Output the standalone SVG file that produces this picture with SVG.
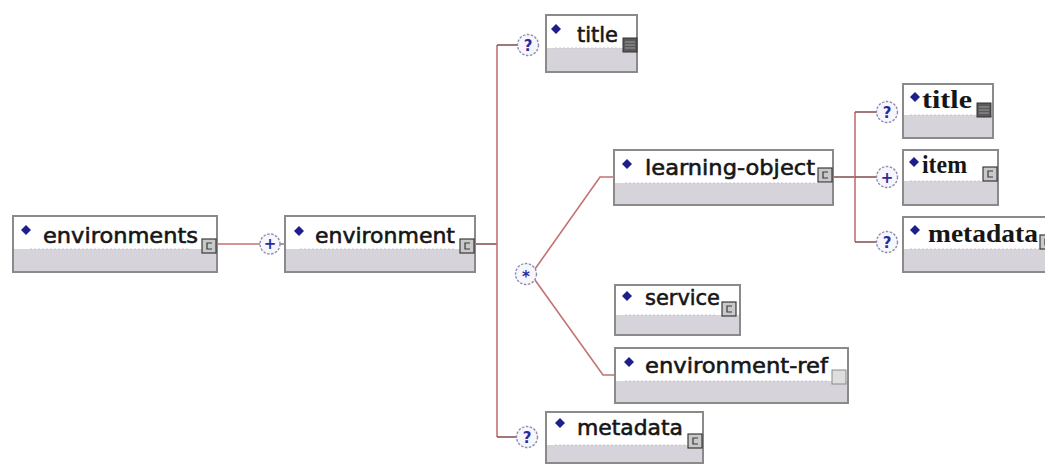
<svg xmlns="http://www.w3.org/2000/svg" width="1045" height="464" viewBox="0 0 1045 464">
  <style>
    .frame { fill: #d6d3da; stroke: #8a8a8a; stroke-width: 2; }
    .head { fill: #ffffff; }
    .sep { stroke: #c8c4d0; stroke-width: 1; stroke-dasharray: 2 2; }
    .dia { fill: #1e1e8c; }
    .txt { font-family: "DejaVu Sans", Verdana, sans-serif; font-size: 22px; fill: #161616; stroke: #161616; stroke-width: 0.6; }
    .txs { font-family: "Liberation Serif", "Times New Roman", serif; font-size: 26px; font-weight: bold; fill: #161616; }
    .ic { fill: #c9c9c9; stroke: #3a3a3a; stroke-width: 1.2; }
    .icl { fill: #dedede; stroke: #8a8a8a; stroke-width: 1; }
    .icc { fill: none; stroke: #3a3a3a; stroke-width: 1.2; }
    .ics { fill: #5a5a5a; stroke: #333; stroke-width: 1; }
    .icsl { stroke: #9a9a9a; stroke-width: 1; }
    .wire { fill: none; stroke: #c27272; stroke-width: 1.6; }
    .stub { fill: none; stroke: #8a5555; stroke-width: 1.6; }
    .card { fill: #f6f6fc; stroke: #8c8cb4; stroke-width: 1.4; stroke-dasharray: 2.5 1.5; }
    .sym { font-family: "DejaVu Sans", Verdana, sans-serif; font-size: 15px; font-weight: bold; fill: #2a2a9a; text-anchor: middle; }
  </style>
  <defs>
    <!-- complex-type badge -->
    <g id="ct">
      <rect class="ic" x="0" y="0" width="14" height="14"/>
      <path class="icc" d="M10 4 H5 V10 H10"/>
    </g>
    <!-- simple-type badge -->
    <g id="st">
      <rect class="ics" x="0" y="0" width="14" height="14"/>
      <path class="icsl" d="M2 4 H12 M2 7 H12 M2 10 H12"/>
    </g>
    <!-- empty badge -->
    <g id="et">
      <rect class="icl" x="0" y="0" width="14" height="14"/>
    </g>
    <path id="dm" d="M0 -5 L5 0 L0 5 L-5 0 Z"/>
  </defs>

  <!-- connectors -->
  <g id="connectors">
    <path class="wire" d="M217 244 H260"/>
    <path class="wire" d="M280 244 H285"/>
    <path class="stub" d="M475 244 H497"/>
    <path class="wire" d="M497 45 V437"/>
    <path class="stub" d="M497 45 H518"/>
    <path class="stub" d="M497 437 H517"/>
    <path class="wire" d="M535 269 L600 177 H614"/>
    <path class="wire" d="M535 280 L603 375 H615"/>
    <path class="stub" d="M833 177 H855"/>
    <path class="wire" d="M855 112 V242"/>
    <path class="stub" d="M855 112 H877"/>
    <path class="stub" d="M855 177 H877"/>
    <path class="stub" d="M855 242 H877"/>
  </g>

  <!-- compositor cards -->
  <g id="cards">
    <circle class="card" cx="270" cy="244" r="10"/>
    <text class="sym" x="270" y="249">+</text>
    <circle class="card" cx="528" cy="45" r="10.5"/>
    <text class="sym" x="528" y="50.5">?</text>
    <circle class="card" cx="526" cy="274" r="10.5"/>
    <text class="sym" x="526" y="281.5">*</text>
    <circle class="card" cx="527" cy="437" r="10.5"/>
    <text class="sym" x="527" y="442.5">?</text>
    <circle class="card" cx="887" cy="112" r="10.5"/>
    <text class="sym" x="887" y="117.5">?</text>
    <circle class="card" cx="887" cy="177" r="10.5"/>
    <text class="sym" x="887" y="182.5">+</text>
    <circle class="card" cx="887" cy="242" r="10.5"/>
    <text class="sym" x="887" y="247.5">?</text>
  </g>

  <g id="environments">
    <rect class="frame" x="13" y="216" width="204" height="56"/>
    <rect class="head" x="14" y="217" width="202" height="32"/>
    <line class="sep" x1="30" y1="249" x2="190" y2="249"/>
    <use href="#dm" class="dia" x="26" y="230"/>
    <text class="txt" x="43" y="243" textLength="155" lengthAdjust="spacingAndGlyphs">environments</text>
    <use href="#ct" x="202" y="239"/>
  </g>

  <g id="environment">
    <rect class="frame" x="285" y="216" width="190" height="56"/>
    <rect class="head" x="286" y="217" width="188" height="32"/>
    <line class="sep" x1="300" y1="249" x2="455" y2="249"/>
    <use href="#dm" class="dia" x="299" y="231"/>
    <text class="txt" x="315" y="243" textLength="140" lengthAdjust="spacingAndGlyphs">environment</text>
    <use href="#ct" x="460" y="239"/>
  </g>

  <g id="title">
    <rect class="frame" x="546" y="15" width="91" height="57"/>
    <rect class="head" x="547" y="16" width="89" height="32"/>
    <line class="sep" x1="555" y1="48" x2="620" y2="48"/>
    <use href="#dm" class="dia" x="556" y="29"/>
    <text class="txt" x="577" y="42" textLength="41" lengthAdjust="spacingAndGlyphs">title</text>
    <use href="#st" x="623" y="38"/>
  </g>

  <g id="learning-object">
    <rect class="frame" x="614" y="150" width="219" height="55"/>
    <rect class="head" x="615" y="151" width="217" height="32"/>
    <line class="sep" x1="625" y1="183" x2="815" y2="183"/>
    <use href="#dm" class="dia" x="627" y="164"/>
    <text class="txt" x="645" y="175" textLength="170" lengthAdjust="spacingAndGlyphs">learning-object</text>
    <use href="#ct" x="818" y="168"/>
  </g>

  <g id="lo-title">
    <rect class="frame" x="903" y="84" width="90" height="54"/>
    <rect class="head" x="904" y="85" width="88" height="30"/>
    <line class="sep" x1="910" y1="115" x2="975" y2="115"/>
    <use href="#dm" class="dia" x="915" y="97"/>
    <text class="txs" x="922" y="108" textLength="50" lengthAdjust="spacingAndGlyphs">title</text>
    <use href="#st" x="977" y="103"/>
  </g>

  <g id="item">
    <rect class="frame" x="903" y="150" width="95" height="55"/>
    <rect class="head" x="904" y="151" width="93" height="30"/>
    <line class="sep" x1="910" y1="181" x2="980" y2="181"/>
    <use href="#dm" class="dia" x="914" y="162"/>
    <text class="txs" x="922" y="173" textLength="45" lengthAdjust="spacingAndGlyphs">item</text>
    <use href="#ct" x="983" y="167"/>
  </g>

  <g id="lo-metadata">
    <rect class="frame" x="903" y="217" width="160" height="55"/>
    <rect class="head" x="904" y="218" width="158" height="31"/>
    <line class="sep" x1="910" y1="249" x2="1040" y2="249"/>
    <use href="#dm" class="dia" x="915" y="230"/>
    <text class="txs" x="928" y="242" textLength="110" lengthAdjust="spacingAndGlyphs">metadata</text>
    <use href="#ct" x="1040" y="235"/>
  </g>

  <g id="service">
    <rect class="frame" x="615" y="285" width="125" height="50"/>
    <rect class="head" x="616" y="286" width="123" height="29"/>
    <line class="sep" x1="625" y1="315" x2="715" y2="315"/>
    <use href="#dm" class="dia" x="627" y="296"/>
    <text class="txt" x="645" y="305" textLength="75" lengthAdjust="spacingAndGlyphs">service</text>
    <use href="#ct" x="722" y="302"/>
  </g>

  <g id="environment-ref">
    <rect class="frame" x="615" y="348" width="233" height="55"/>
    <rect class="head" x="616" y="349" width="231" height="32"/>
    <line class="sep" x1="625" y1="381" x2="828" y2="381"/>
    <use href="#dm" class="dia" x="629" y="362"/>
    <text class="txt" x="645" y="373" textLength="183" lengthAdjust="spacingAndGlyphs">environment-ref</text>
    <use href="#et" x="832" y="370"/>
  </g>

  <g id="metadata">
    <rect class="frame" x="546" y="412" width="157" height="51"/>
    <rect class="head" x="547" y="413" width="155" height="32"/>
    <line class="sep" x1="555" y1="445" x2="685" y2="445"/>
    <use href="#dm" class="dia" x="560" y="423"/>
    <text class="txt" x="577" y="435" textLength="106" lengthAdjust="spacingAndGlyphs">metadata</text>
    <use href="#ct" x="688" y="434"/>
  </g>
</svg>
